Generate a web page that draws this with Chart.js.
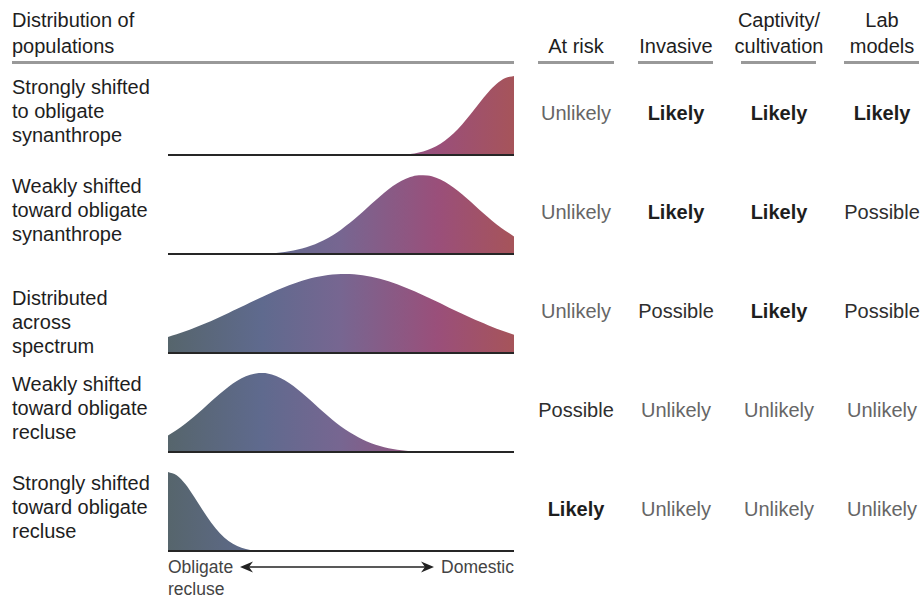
<!DOCTYPE html>
<html>
<head>
<meta charset="utf-8">
<script src="https://cdn.jsdelivr.net/npm/chart.js@4"></script>
<style>
  html, body { margin:0; padding:0; background:#fff; }
  body { width:922px; height:596px; position:relative; overflow:hidden;
         font-family:"Liberation Sans", Arial, Helvetica, sans-serif; color:#1e1e1e; }
  .t { position:absolute; white-space:nowrap; }
  .lbl { font-size:20px; line-height:24px; left:12px; }
  .hdr { font-size:20px; line-height:26px; }
  .rule { position:absolute; height:3px; background:#999; top:61px; }
  .cell { font-size:20px; line-height:24px; width:110px; text-align:center; }
  .Unlikely { color:#666; }
  .Possible { color:#2e2e2e; }
  .Likely { color:#1e1e1e; font-weight:bold; }
  canvas { position:absolute; left:168px; }
  .small { font-size:17.5px; color:#444; line-height:22px; }
</style>
</head>
<body>
<script>
// ---- data ----
const spectrumPos = [0,0.025,0.05,0.075,0.1,0.125,0.15,0.175,0.2,0.225,0.25,0.275,0.3,0.325,0.35,0.375,0.4,0.425,0.45,0.475,0.5,0.525,0.55,0.575,0.6,0.625,0.65,0.675,0.7,0.725,0.75,0.775,0.8,0.825,0.85,0.875,0.9,0.925,0.95,0.975,1];

const rowLabels = [
  ["Strongly shifted","to obligate","synanthrope"],
  ["Weakly shifted","toward obligate","synanthrope"],
  ["Distributed","across","spectrum"],
  ["Weakly shifted","toward obligate","recluse"],
  ["Strongly shifted","toward obligate","recluse"]
];

const strongSynanthrope = [0,0,0,0,0,0,0,0,0,0,0,0,0,0,0,0,0,0,0,0,0,0,0,0,0.1,0.3,0.6,1.3,2.4,4.4,7.5,12.3,19.2,28.2,39.4,52.5,66.2,79.3,90.2,97.4,100];
const weakSynanthrope = [0,0,0,0,0,0,0.1,0.15,0.3,0.4,0.7,1.2,1.9,3.0,4.6,6.8,9.7,13.5,18.4,24.4,31.7,39.9,49.0,58.7,68.4,77.7,86.1,92.8,97.5,99.8,99.5,96.7,91.6,84.5,75.9,66.5,56.7,47.2,38.2,30.2,23.2];
const acrossSpectrum = [21.3,24.7,28.4,32.5,36.8,41.4,46.3,51.3,56.5,61.7,66.9,72.0,76.9,81.6,85.9,89.7,93.1,95.8,97.9,99.3,99.9,99.9,99.1,97.5,95.3,92.4,89.0,85.0,80.7,76.0,71.0,65.9,60.7,55.4,50.3,45.3,40.5,35.9,31.6,27.7,24.0];
const weakRecluse = [21.9,28.7,36.5,45.3,54.8,64.6,74.1,82.9,90.3,95.9,99.2,99.9,98.1,93.9,87.5,79.5,70.3,60.7,50.9,41.7,33.2,25.8,19.6,14.4,10.4,7.3,4.9,3.3,2.1,1.3,0.8,0.5,0.3,0.15,0.1,0,0,0,0,0,0];
const strongRecluse = [100,96.0,85.1,69.5,52.4,36.5,23.4,13.8,7.5,3.8,1.8,0.8,0.3,0.1,0,0,0,0,0,0,0,0,0,0,0,0,0,0,0,0,0,0,0,0,0,0,0,0,0,0,0];

const columnHeaders = [["","At risk"],["","Invasive"],["Captivity/","cultivation"],["Lab","models"]];
const atRisk    = ["Unlikely","Unlikely","Unlikely","Possible","Likely"];
const invasive  = ["Likely","Likely","Possible","Unlikely","Unlikely"];
const captivity = ["Likely","Likely","Likely","Unlikely","Unlikely"];
const labModels = ["Likely","Possible","Possible","Unlikely","Unlikely"];

// ---- layout ----
const rowSeries = [strongSynanthrope, weakSynanthrope, acrossSpectrum, weakRecluse, strongRecluse];
const baselines = [155, 254, 353, 452, 551];
const labelTops = [75, 174, 286, 372, 471];
const cellCenters = [113, 212, 311, 410, 509];
const colCenters = [576, 676, 779, 882];
const colRules = [[538,614],[638,713],[741,816],[844,919]];
const tableCols = [atRisk, invasive, captivity, labModels];

function addDiv(cls, html, style) {
  const d = document.createElement('div');
  d.className = cls; d.innerHTML = html;
  Object.assign(d.style, style);
  document.body.appendChild(d);
  return d;
}

// header
addDiv('t hdr', 'Distribution of<br>populations', {left:'12px', top:'7px'});
addDiv('rule', '', {left:'12px', width:'502px'});
columnHeaders.forEach((h, i) => {
  addDiv('t hdr', (h[0] || '&nbsp;') + '<br>' + h[1], {left:(colCenters[i]-60)+'px', top:'7px', width:'120px', textAlign:'center'});
  addDiv('rule', '', {left:colRules[i][0]+'px', width:(colRules[i][1]-colRules[i][0])+'px'});
});

// row labels + cells
rowLabels.forEach((lines, r) => {
  addDiv('t lbl', lines.join('<br>'), {top:labelTops[r]+'px'});
  tableCols.forEach((col, c) => {
    addDiv('t cell ' + col[r], col[r], {left:(colCenters[c]-55)+'px', top:(cellCenters[r]-12)+'px'});
  });
});

// axis note
addDiv('t small', 'Obligate<br>recluse', {left:'168px', top:'556px'});
addDiv('t small', 'Domestic', {left:'440px', top:'556px', width:'74px', textAlign:'right'});
const svgNS = 'http://www.w3.org/2000/svg';
const svg = document.createElementNS(svgNS, 'svg');
svg.setAttribute('width', '922'); svg.setAttribute('height', '596');
svg.style.position = 'absolute'; svg.style.left = '0'; svg.style.top = '0';
svg.innerHTML = '<line x1="248" y1="567" x2="425" y2="567" stroke="#222" stroke-width="1.5"/>' +
  '<polygon points="240,567 253,561.5 249,567 253,572.5" fill="#222"/>' +
  '<polygon points="434,567 421,561.5 425,567 421,572.5" fill="#222"/>';
document.body.appendChild(svg);

// ---- charts ----
const baselinePlugin = {
  id: 'baseline',
  afterDatasetsDraw(chart) {
    const {ctx, chartArea:a} = chart;
    ctx.save();
    ctx.strokeStyle = '#262626';
    ctx.lineWidth = 2;
    ctx.beginPath();
    ctx.moveTo(a.left, a.bottom - 1);
    ctx.lineTo(a.right, a.bottom - 1);
    ctx.stroke();
    ctx.restore();
  }
};

function gradientFill(c) {
  const ch = c.chart, a = ch.chartArea;
  if (!a) return 'rgba(0,0,0,0)';
  const g = ch.ctx.createLinearGradient(a.left, 0, a.right, 0);
  g.addColorStop(0, '#56656c');
  g.addColorStop(0.27, '#5f6a8e');
  g.addColorStop(0.5, '#776691');
  g.addColorStop(0.78, '#9a4f7a');
  g.addColorStop(1, '#a6545a');
  return g;
}

rowSeries.forEach((series, r) => {
  const cv = document.createElement('canvas');
  cv.width = 346; cv.height = 86;
  cv.style.width = '346px'; cv.style.height = '86px';
  cv.style.top = (baselines[r] - 85) + 'px';
  document.body.appendChild(cv);
  new Chart(cv, {
    type: 'line',
    data: {
      labels: spectrumPos,
      datasets: [{
        data: series.map((v, i) => ({x: spectrumPos[i], y: v})),
        fill: 'origin',
        backgroundColor: gradientFill,
        borderWidth: 0,
        borderColor: 'rgba(0,0,0,0)',
        pointRadius: 0,
        cubicInterpolationMode: 'monotone'
      }]
    },
    options: {
      responsive: false,
      animation: false,
      devicePixelRatio: 1,
      layout: { padding: 0 },
      plugins: { legend: {display:false}, tooltip: {enabled:false} },
      scales: {
        x: { type:'linear', min:0, max:1, display:false },
        y: { min:0, max:107.5, display:false }
      }
    },
    plugins: [baselinePlugin]
  });
});
</script>
</body>
</html>
